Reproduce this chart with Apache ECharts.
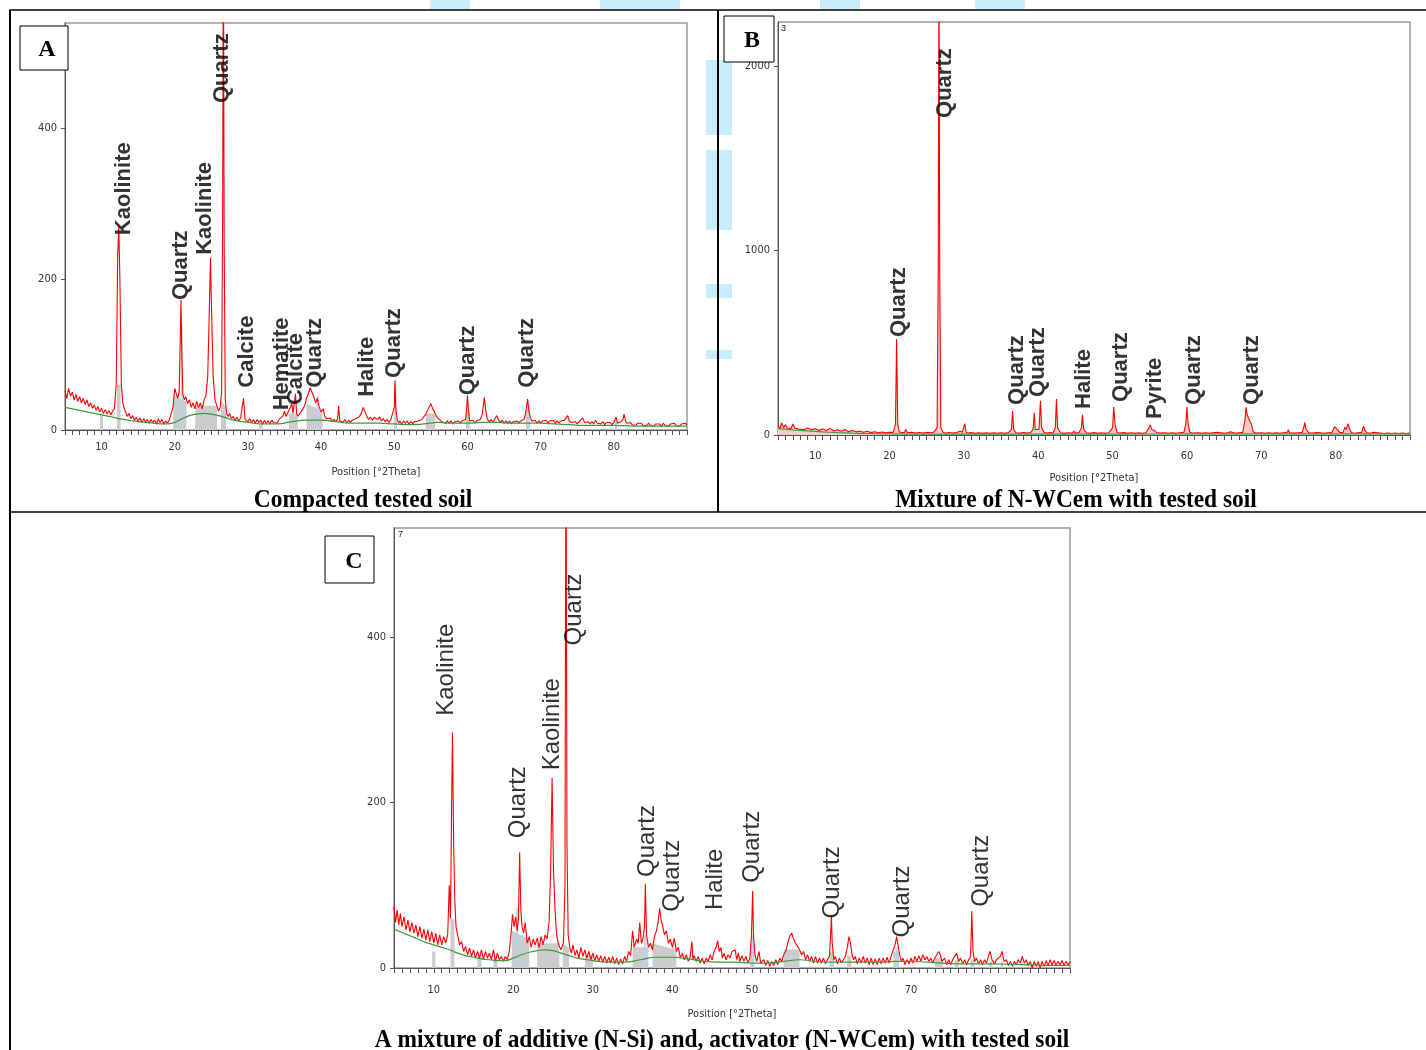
<!DOCTYPE html>
<html><head><meta charset="utf-8">
<script src="https://cdn.jsdelivr.net/npm/echarts@6/dist/echarts.min.js"></script>
<style>html,body{margin:0;padding:0;background:#fff}#c{width:1426px;height:1050px}</style>
</head><body><div id="c"></div>
<script>
// ---------- DATA ----------
const panelIds = ['A', 'B', 'C'];
const captions = ['Compacted tested soil', 'Mixture of N-WCem with tested soil', 'A mixture of additive (N-Si) and, activator (N-WCem) with tested soil'];
const axisTitle = 'Position [°2Theta]';
const xTickLabels = [10, 20, 30, 40, 50, 60, 70, 80];
const yTicksA = [0, 200, 400];
const yTicksB = [0, 1000, 2000];
const yTicksC = [0, 200, 400];
const cornerTags = ['', '3', '7'];

// Panel A (compacted tested soil)
const redA = [[5,52],[5.25,42],[5.5,55],[5.75,45],[6,50],[6.25,40],[6.5,47],[6.75,38],[7,44],[7.25,36],[7.5,42],[7.75,34],[8,40],[8.25,31],[8.5,36],[8.75,29],[9,33],[9.25,26],[9.5,31],[9.75,24],[10,29],[10.25,22],[10.5,27],[10.75,21],[11,26],[11.25,20],[11.5,25],[11.75,28],[12,60],[12.2,230],[12.35,270],[12.5,200],[12.7,60],[12.9,35],[13.2,26],[13.5,18],[13.75,22],[14,15],[14.25,19],[14.5,13],[14.75,17],[15,12],[15.25,16],[15.5,10],[15.75,15],[16,11],[16.25,14],[16.5,9],[16.75,14],[17,10],[17.25,13],[17.5,8],[17.75,15],[18,10],[18.25,14],[18.5,8],[18.75,12],[19,9],[19.25,13],[19.5,15],[19.75,30],[20,55],[20.2,48],[20.4,42],[20.6,50],[20.75,120],[20.85,172],[20.95,110],[21.1,48],[21.3,40],[21.5,44],[21.75,35],[22,40],[22.25,30],[22.5,36],[22.75,28],[23,38],[23.25,30],[23.5,36],[23.75,28],[24,40],[24.25,45],[24.5,70],[24.7,150],[24.88,228],[25.05,150],[25.25,70],[25.5,40],[25.75,32],[26,25],[26.2,30],[26.4,50],[26.55,300],[26.64,700],[26.75,250],[26.9,40],[27.1,22],[27.3,18],[27.5,22],[27.75,15],[28,18],[28.25,13],[28.5,17],[28.75,12],[29,16],[29.2,14],[29.4,42],[29.6,14],[29.75,16],[30,11],[30.25,15],[30.5,10],[30.75,14],[31,9],[31.25,14],[31.5,10],[31.75,13],[32,8],[32.25,13],[32.5,9],[32.75,12],[33,8],[33.25,13],[33.5,10],[33.75,12],[34,9],[34.25,14],[34.5,12],[34.75,18],[35,25],[35.2,18],[35.4,22],[35.6,20],[35.8,30],[36,35],[36.15,22],[36.3,20],[36.5,48],[36.65,22],[36.8,18],[37,20],[37.25,24],[37.5,28],[37.75,32],[38,42],[38.25,48],[38.5,56],[38.75,50],[39,44],[39.25,36],[39.5,42],[39.75,30],[40,24],[40.3,28],[40.5,18],[40.75,15],[41,13],[41.25,16],[41.5,11],[41.75,14],[42,11],[42.25,14],[42.4,32],[42.55,12],[42.75,14],[43,10],[43.25,14],[43.5,9],[43.75,13],[44,10],[44.25,13],[44.5,11],[44.75,15],[45,14],[45.25,18],[45.5,22],[45.75,30],[46,24],[46.25,18],[46.5,14],[46.75,17],[47,13],[47.25,17],[47.5,19],[47.75,14],[48,17],[48.25,12],[48.5,15],[48.75,11],[49,14],[49.25,10],[49.5,13],[49.75,12],[50,30],[50.1,66],[50.2,30],[50.4,13],[50.6,9],[50.75,12],[51,8],[51.25,12],[51.5,9],[51.75,12],[52,8],[52.25,11],[52.5,8],[52.75,11],[53,9],[53.25,12],[53.5,10],[53.75,14],[54,16],[54.25,20],[54.5,25],[54.75,30],[55,35],[55.25,28],[55.5,24],[55.75,18],[56,15],[56.25,13],[56.5,11],[56.75,13],[57,9],[57.25,12],[57.5,9],[57.75,12],[58,8],[58.25,11],[58.5,9],[58.75,12],[59,9],[59.25,12],[59.5,10],[59.75,14],[59.9,30],[60,46],[60.1,30],[60.3,12],[60.5,10],[60.75,13],[61,9],[61.25,12],[61.5,10],[61.75,14],[62,20],[62.2,35],[62.3,43],[62.45,30],[62.7,14],[63,11],[63.25,14],[63.5,10],[63.75,15],[64,19],[64.25,13],[64.5,10],[64.75,13],[65,9],[65.25,12],[65.5,9],[65.75,12],[66,8],[66.25,11],[66.5,9],[66.75,12],[67,9],[67.25,12],[67.5,10],[67.75,14],[68,25],[68.2,41],[68.4,25],[68.6,16],[68.8,12],[69,10],[69.25,13],[69.5,9],[69.75,12],[70,9],[70.25,12],[70.5,10],[70.75,13],[71,9],[71.25,12],[71.5,10],[71.75,13],[72,9],[72.25,12],[72.5,9],[72.75,12],[73,10],[73.25,13],[73.5,15],[73.7,19],[73.9,12],[74.25,10],[74.5,8],[74.75,11],[75,8],[75.25,11],[75.5,9],[75.75,16],[76,10],[76.25,8],[76.5,11],[76.75,8],[77,11],[77.25,8],[77.5,13],[77.75,9],[78,11],[78.25,8],[78.5,11],[78.75,7],[79,10],[79.25,8],[79.5,10],[79.75,7],[80,10],[80.3,17],[80.5,9],[80.75,8],[81,11],[81.25,14],[81.4,21],[81.6,12],[81.8,9],[82,7],[82.25,10],[82.5,7],[82.75,9],[83,6],[83.25,9],[83.5,7],[83.75,9],[84,6],[84.25,8],[84.5,6],[84.75,9],[85,6],[85.25,8],[85.5,5],[85.75,8],[86,6],[86.25,8],[86.5,5],[86.75,9],[87,6],[87.25,8],[87.5,5],[87.75,8],[88,6],[88.25,9],[88.5,6],[88.75,8],[89,5],[89.25,8],[89.5,6],[89.75,9],[90,7]];
const greenA = [[5,30],[7,26],[9,22],[11,18],[13,14],[15,11],[17,9],[19,8],[20,10],[21,15],[22,19],[23,21],[24,22],[25,21],[26,19],[27,16],[28,13],[30,10],[32,8],[34,8],[36,11],[38,13],[40,13],[42,11],[44,9],[46,9],[48,9],[50,8],[52,7],[54,8],[56,10],[58,9],[60,9],[62,10],[64,10],[66,9],[68,9],[70,9],[72,8],[74,7],[76,6],[78,6],[80,6],[84,5],[90,5]];
const grayA = [[5,0],[9.8,0],[9.8,20],[10.2,20],[10.2,0],[12.1,0],[12.1,60],[12.6,60],[12.6,0],[19.8,0],[19.8,45],[21.6,38],[21.6,0],[22.8,0],[22.8,32],[25.8,32],[25.8,0],[26.3,0],[26.3,40],[27,30],[27,0],[31.5,0],[31.5,10],[32,10],[32,0],[35.6,0],[35.6,22],[36.8,22],[36.8,0],[38,0],[38,35],[40.2,25],[40.2,0],[50,0],[50,40],[50.3,40],[50.3,0],[54.3,0],[54.3,22],[55.6,22],[55.6,0],[59.8,0],[59.8,25],[60.3,25],[60.3,0],[68,0],[68,25],[68.5,25],[68.5,0],[90,0]];
const sticksA = [[20.95,0],[20.95,140],[20.95,'-'],[39.5,0],[39.5,45],[39.5,'-'],[50.15,0],[50.15,62],[50.15,'-'],[68.35,0],[68.35,40],[68.35,'-'],[80.3,0],[80.3,16]];
const labelsA = [[13.0,258,'Kaolinite'],[20.9,172,'Quartz'],[24.1,232,'Kaolinite'],[26.5,433,'Quartz'],[29.9,56,'Calcite'],[34.6,26,'Hematite'],[36.5,33,'Calcite'],[39.2,56,'Quartz'],[46.2,44,'Halite'],[49.9,69,'Quartz'],[60.1,46,'Quartz'],[68.1,56,'Quartz']];

// Panel B (N-WCem + soil)
const redB = [[5,50],[5.25,35],[5.5,65],[5.75,40],[6,55],[6.25,38],[6.5,48],[6.75,35],[7,60],[7.25,38],[7.5,45],[7.75,32],[8,42],[8.5,30],[9,38],[9.5,28],[10,34],[10.5,25],[11,32],[11.5,24],[12,36],[12.5,22],[13,28],[13.5,20],[14,30],[14.5,18],[15,25],[15.5,17],[16,22],[16.5,15],[17,20],[17.5,13],[18,18],[18.5,12],[19,16],[19.5,12],[20,15],[20.5,14],[20.8,60],[20.95,520],[21.1,60],[21.3,18],[21.6,12],[22,14],[22.2,30],[22.4,12],[23,15],[23.5,10],[24,14],[24.5,10],[25,14],[25.5,12],[26,16],[26.4,40],[26.55,900],[26.65,2600],[26.75,900],[26.9,40],[27.2,15],[27.5,10],[28,14],[28.5,10],[29,13],[29.5,20],[29.8,15],[30.1,62],[30.3,15],[30.6,10],[31,13],[31.5,9],[32,12],[32.5,9],[33,12],[33.5,9],[34,12],[34.5,9],[35,12],[35.5,9],[36,13],[36.4,30],[36.55,130],[36.7,30],[37,12],[37.5,10],[38,14],[38.5,10],[39,14],[39.3,30],[39.47,122],[39.6,30],[40.1,30],[40.3,185],[40.45,40],[40.8,14],[41.2,10],[41.6,13],[42,10],[42.3,40],[42.45,195],[42.6,40],[43,12],[43.5,9],[44,12],[44.6,10],[44.8,22],[45,10],[45.5,14],[45.8,40],[45.95,110],[46.1,30],[46.5,12],[47,9],[47.5,13],[48,9],[48.5,12],[49,9],[49.5,12],[50,40],[50.15,152],[50.35,50],[50.6,15],[51,10],[51.5,13],[52,9],[52.5,12],[53,9],[53.5,12],[54,9],[54.5,12],[54.9,40],[55.05,55],[55.3,28],[55.6,25],[55.9,14],[56.3,10],[57,12],[57.5,9],[58,12],[58.5,9],[59,12],[59.6,15],[59.85,60],[60,152],[60.15,60],[60.4,15],[60.8,10],[61.5,12],[62,9],[62.5,12],[63,9],[63.5,12],[64.1,15],[64.2,25],[64.35,12],[65,9],[65.5,12],[65.85,18],[66,12],[66.5,9],[67,12],[67.5,14],[67.8,80],[67.95,150],[68.1,110],[68.25,95],[68.45,100],[68.65,60],[68.9,18],[69.3,10],[70,12],[70.5,9],[71,12],[71.5,9],[72,12],[72.5,9],[73,12],[73.5,15],[73.65,28],[73.8,12],[74.5,10],[75,12],[75.5,14],[75.7,40],[75.85,67],[76,30],[76.2,35],[76.4,12],[77,10],[77.5,13],[77.7,22],[77.9,12],[78.5,9],[79,12],[79.5,13],[79.85,45],[80,40],[80.2,30],[80.35,32],[80.6,12],[81,14],[81.25,42],[81.45,30],[81.65,62],[81.85,35],[82.1,14],[82.5,9],[83,12],[83.5,14],[83.75,48],[83.95,25],[84.2,12],[84.7,10],[85.1,15],[85.3,9],[86,11],[86.5,8],[87,11],[87.5,8],[88,11],[88.5,8],[89,11],[89.5,8],[90,10]];
const greenB = [[5,35],[7,28],[9,22],[11,17],[13,13],[15,10],[17,8],[20,6],[25,5],[30,5],[40,5],[50,5],[60,6],[70,6],[80,6],[90,6]];
const grayB = [[5,0],[20.85,0],[20.9,300],[21.0,300],[21.05,0],[26.5,0],[26.58,1500],[26.72,1500],[26.8,0],[40.25,0],[40.3,80],[40.4,80],[40.45,0],[50.05,0],[50.1,60],[50.25,60],[50.3,0],[59.9,0],[59.95,60],[60.1,60],[60.15,0],[67.85,0],[67.9,70],[68.6,70],[68.65,0],[81.5,0],[81.55,30],[81.8,30],[81.85,0],[90,0]];
const labelsB = [[21.3,531,'Quartz'],[27.5,1718,'Quartz'],[37.1,163,'Quartz'],[40.0,206,'Quartz'],[46.1,141,'Halite'],[51.1,179,'Quartz'],[55.7,87,'Pyrite'],[60.9,163,'Quartz'],[68.8,163,'Quartz']];

// Panel C (N-Si + N-WCem + soil)
const redC = [[5,75],[5.2,55],[5.4,70],[5.6,52],[5.8,66],[6,50],[6.25,62],[6.5,46],[6.75,58],[7,44],[7.25,55],[7.5,42],[7.75,52],[8,38],[8.25,50],[8.5,36],[8.75,47],[9,34],[9.25,46],[9.5,32],[9.75,44],[10,30],[10.25,42],[10.5,28],[10.75,40],[11,28],[11.25,38],[11.5,30],[11.75,40],[11.95,100],[12.1,60],[12.25,200],[12.35,285],[12.5,150],[12.65,80],[12.8,50],[13,40],[13.25,28],[13.5,32],[13.75,20],[14,26],[14.25,16],[14.5,24],[14.75,14],[15,22],[15.25,12],[15.5,20],[15.75,12],[16,22],[16.25,10],[16.5,20],[16.75,12],[17,18],[17.25,10],[17.5,22],[17.75,8],[18,18],[18.25,10],[18.5,14],[18.75,8],[19,14],[19.25,10],[19.5,20],[19.75,45],[19.9,65],[20.1,50],[20.3,62],[20.5,45],[20.65,60],[20.8,140],[20.95,70],[21.1,50],[21.3,42],[21.5,55],[21.75,30],[22,38],[22.25,25],[22.5,35],[22.75,28],[23,36],[23.25,25],[23.5,38],[23.75,28],[24,40],[24.25,35],[24.5,55],[24.7,120],[24.88,230],[25.05,120],[25.25,70],[25.45,40],[25.7,28],[26,22],[26.3,30],[26.5,100],[26.62,700],[26.75,150],[26.9,40],[27.1,25],[27.3,18],[27.5,28],[27.75,15],[28,22],[28.25,12],[28.5,25],[28.75,14],[29,22],[29.25,12],[29.5,20],[29.75,10],[30,18],[30.25,9],[30.5,16],[30.75,8],[31,15],[31.25,7],[31.5,14],[31.75,6],[32,13],[32.25,6],[32.5,14],[32.75,5],[33,12],[33.25,4],[33.5,11],[33.75,5],[34,14],[34.25,8],[34.5,20],[34.75,15],[35,45],[35.2,25],[35.5,35],[35.7,30],[35.9,55],[36.1,30],[36.3,35],[36.5,50],[36.6,102],[36.75,40],[37,25],[37.25,30],[37.5,22],[37.75,38],[38,45],[38.2,55],[38.4,72],[38.6,58],[38.8,50],[39,40],[39.25,45],[39.5,30],[39.75,35],[40,25],[40.25,36],[40.5,20],[40.75,25],[41,12],[41.25,18],[41.5,10],[41.75,16],[42,8],[42.25,14],[42.45,32],[42.6,10],[42.75,15],[43,8],[43.25,14],[43.5,6],[43.75,12],[44,5],[44.25,12],[44.5,8],[44.75,16],[45,10],[45.25,20],[45.5,25],[45.7,33],[45.9,20],[46.1,25],[46.3,12],[46.5,18],[46.75,10],[47,16],[47.25,12],[47.5,20],[47.9,22],[48.1,10],[48.3,18],[48.5,8],[48.75,15],[49,8],[49.25,14],[49.5,6],[49.75,12],[49.95,40],[50.1,93],[50.2,40],[50.4,15],[50.6,8],[50.9,20],[51.1,6],[51.5,10],[51.75,3],[52,9],[52.25,2],[52.5,8],[52.75,3],[53,10],[53.25,4],[53.5,12],[53.75,8],[54,16],[54.25,20],[54.5,30],[54.75,38],[55,42],[55.25,35],[55.5,30],[55.75,28],[56,22],[56.25,16],[56.5,20],[56.75,10],[57,16],[57.25,8],[57.5,14],[57.75,6],[58,14],[58.25,6],[58.5,12],[58.75,6],[59,12],[59.25,5],[59.5,10],[59.75,14],[59.9,40],[60,63],[60.1,30],[60.3,10],[60.5,14],[60.75,5],[61,12],[61.25,6],[61.5,10],[61.75,14],[62,25],[62.2,38],[62.4,30],[62.6,16],[62.8,10],[63,14],[63.25,5],[63.5,12],[63.75,6],[64,14],[64.25,6],[64.5,12],[64.75,4],[65,12],[65.25,4],[65.5,11],[65.75,4],[66,12],[66.25,5],[66.5,12],[66.75,6],[67,13],[67.25,6],[67.5,14],[67.75,12],[68,28],[68.2,38],[68.4,26],[68.6,15],[68.8,8],[69,12],[69.25,4],[69.5,10],[69.75,5],[70,12],[70.25,6],[70.5,14],[70.75,8],[71,15],[71.25,8],[71.5,16],[71.75,10],[72,14],[72.25,8],[72.5,12],[72.75,6],[73,12],[73.25,10],[73.5,20],[73.7,16],[73.9,8],[74.25,12],[74.5,4],[74.75,10],[75,4],[75.25,10],[75.5,8],[75.75,18],[76,8],[76.25,12],[76.5,5],[76.75,10],[77,4],[77.25,10],[77.5,14],[77.65,69],[77.8,20],[78,8],[78.25,12],[78.5,5],[78.75,10],[79,4],[79.25,10],[79.5,6],[79.75,14],[79.95,20],[80.2,10],[80.5,5],[80.75,10],[81,8],[81.25,14],[81.45,20],[81.7,8],[82,10],[82.25,3],[82.5,8],[82.75,2],[83,8],[83.25,4],[83.5,10],[83.75,6],[84,14],[84.25,6],[84.5,10],[84.75,3],[85,8],[85.25,0],[85.5,8],[85.75,2],[86,8],[86.25,0],[86.5,8],[86.75,2],[87,9],[87.25,3],[87.5,10],[87.75,4],[88,9],[88.25,3],[88.5,8],[88.75,4],[89,9],[89.25,3],[89.5,8],[89.75,4],[90,8]];
const greenC = [[5,47],[6,43],[7,39],[8,35],[9,31],[10,28],[11,25],[12,22],[13,18],[14,15],[15,13],[16,11],[17,10],[18,9],[19,9],[20,12],[21,16],[22,19],[23,21],[24,22],[25,21],[26,18],[27,15],[28,12],[30,9],[32,7],[34,7],[36,10],[38,13],[40,13],[42,11],[44,8],[46,7],[48,7],[50,6],[52,6],[54,8],[56,10],[58,8],[60,7],[62,7],[64,7],[66,7],[68,8],[70,8],[72,7],[74,6],[76,5],[78,5],[80,5],[84,4],[88,3],[90,3]];
const grayC = [[5,0],[9.8,0],[9.8,20],[10.2,20],[10.2,0],[12.1,0],[12.1,60],[12.6,60],[12.6,0],[15.5,0],[15.5,15],[16,15],[16,0],[17.5,0],[17.5,10],[18,10],[18,0],[19.8,0],[19.8,45],[22,35],[22,0],[23,0],[23,30],[25.8,30],[25.8,0],[26.2,0],[26.2,30],[27,25],[27,0],[29,0],[29,15],[30,15],[30,0],[35,0],[35,25],[37,25],[37,0],[37.5,0],[37.5,30],[40.5,22],[40.5,0],[49.8,0],[49.8,30],[50.3,30],[50.3,0],[54,0],[54,22],[56,22],[56,0],[59.8,0],[59.8,20],[60.3,20],[60.3,0],[62,0],[62,15],[62.5,15],[62.5,0],[67.8,0],[67.8,20],[68.5,20],[68.5,0],[73,0],[73,12],[74,12],[74,0],[75.5,0],[75.5,10],[76,10],[76,0],[77.5,0],[77.5,10],[78,10],[78,0],[79.8,0],[79.8,8],[80.2,8],[80.2,0],[81.3,0],[81.3,8],[81.6,8],[81.6,0],[90,0]];
const sticksC = [[20.5,0],[20.5,72],[20.5,'-'],[36.6,0],[36.6,40],[36.6,'-'],[50.1,0],[50.1,40],[50.1,'-'],[54.8,0],[54.8,22],[54.8,'-'],[68.2,0],[68.2,25]];
const labelsC = [[11.6,305,'Kaolinite'],[20.6,157,'Quartz'],[24.9,239,'Kaolinite'],[27.7,390,'Quartz'],[36.8,110,'Quartz'],[40.0,68,'Quartz'],[45.4,70,'Halite'],[50.1,103,'Quartz'],[60.1,60,'Quartz'],[68.9,37,'Quartz'],[78.8,74,'Quartz']];

// ---------- CHART ----------
const grids = [
  {left: 65, top: 23, width: 622, height: 407},
  {left: 778, top: 22, width: 632, height: 413},
  {left: 394, top: 528, width: 676, height: 440}
];
const yMax = [539, 2238, 532];
const yTicks = [yTicksA, yTicksB, yTicksC];
const xLabelMargin = [12, 16, 17];
const nameGaps = [37, 38, 41];
const narrow = "'Liberation Sans Narrow','Arial Narrow','DejaVu Sans Condensed','Liberation Sans',sans-serif";

const xAxes = grids.map((g, i) => ({
  gridIndex: i, type: 'value', min: 5, max: 90, interval: 1,
  axisLine: {show: true, onZero: false, lineStyle: {color: '#555', width: 1}},
  axisTick: {show: true, length: 5, lineStyle: {color: '#555'}},
  splitLine: {show: false},
  axisLabel: {margin: xLabelMargin[i], fontSize: 11, color: '#333', fontFamily: narrow,
    formatter: v => (xTickLabels.indexOf(v) >= 0 ? String(v) : '')},
  name: axisTitle, nameLocation: 'middle', nameGap: nameGaps[i],
  nameTextStyle: {fontSize: 11, color: '#333', fontFamily: narrow}
}));
const yAxes = grids.map((g, i) => ({
  gridIndex: i, type: 'value', min: 0, max: yMax[i], interval: yTicks[i][1] - yTicks[i][0],
  axisLine: {show: true, lineStyle: {color: '#555', width: 1}},
  axisTick: {show: true, length: 4, lineStyle: {color: '#555'}},
  splitLine: {show: false},
  axisLabel: {margin: 8, fontSize: 11, color: '#333', fontFamily: narrow, showMaxLabel: false,
    formatter: v => (yTicks[i].indexOf(v) >= 0 ? String(v) : '')}
}));

function panelSeries(i, red, green, gray, sticks, labels, bold, fs, redFill) {
  const out = [];
  out.push({type: 'line', xAxisIndex: i, yAxisIndex: i, data: gray, symbol: 'none',
    lineStyle: {width: 0}, areaStyle: {color: '#cccccc', opacity: 1}, silent: true, z: 1});
  if (sticks) out.push({type: 'line', xAxisIndex: i, yAxisIndex: i, data: sticks, symbol: 'none',
    connectNulls: false, lineStyle: {width: 2, color: '#b9d3ef'}, silent: true, z: 2});
  const r = {type: 'line', xAxisIndex: i, yAxisIndex: i, data: red, symbol: 'none',
    lineStyle: {width: 1.1, color: '#ff0000'}, silent: true, z: 3};
  if (redFill) r.areaStyle = {color: redFill, opacity: 1, origin: 'start'};
  out.push(r);
  out.push({type: 'line', xAxisIndex: i, yAxisIndex: i, data: green, symbol: 'none', smooth: true,
    lineStyle: {width: 1.2, color: '#3c9a3c'}, silent: true, z: 4});
  out.push({type: 'scatter', xAxisIndex: i, yAxisIndex: i, data: labels, symbolSize: 0, silent: true, z: 5,
    label: {show: true, position: [0, 0], rotate: 90, align: 'left', verticalAlign: 'middle',
      formatter: p => p.data[2], fontFamily: "'Liberation Sans',Arial,sans-serif",
      fontWeight: bold ? 'bold' : 'normal', fontSize: fs, color: '#000'}});
  return out;
}

const series = [].concat(
  panelSeries(0, redA, greenA, grayA, sticksA, labelsA, true, 22, null),
  panelSeries(1, redB, greenB, grayB, null, labelsB, true, 22, '#f1cfcf'),
  panelSeries(2, redC, greenC, grayC, sticksC, labelsC, false, 24, null)
);

const W = '#c9eefb';
const capFont = "bold 26px 'Liberation Serif',serif";
const graphic = [
  // faint watermark pieces
  {type: 'rect', z: -10, shape: {x: 706, y: 60, width: 26, height: 75}, style: {fill: W}},
  {type: 'rect', z: -10, shape: {x: 706, y: 150, width: 26, height: 80}, style: {fill: W}},
  {type: 'rect', z: -10, shape: {x: 706, y: 284, width: 26, height: 14}, style: {fill: W}},
  {type: 'rect', z: -10, shape: {x: 706, y: 350, width: 26, height: 9}, style: {fill: W}},
  {type: 'rect', z: -10, shape: {x: 430, y: 0, width: 40, height: 9}, style: {fill: W}},
  {type: 'rect', z: -10, shape: {x: 600, y: 0, width: 80, height: 9}, style: {fill: W}},
  {type: 'rect', z: -10, shape: {x: 820, y: 0, width: 40, height: 9}, style: {fill: W}},
  {type: 'rect', z: -10, shape: {x: 975, y: 0, width: 50, height: 9}, style: {fill: W}},
  // table borders
  {type: 'line', shape: {x1: 9, y1: 10, x2: 1426, y2: 10}, style: {stroke: '#000', lineWidth: 1.5}},
  {type: 'line', shape: {x1: 10, y1: 10, x2: 10, y2: 1050}, style: {stroke: '#000', lineWidth: 2}},
  {type: 'line', shape: {x1: 718, y1: 10, x2: 718, y2: 512}, style: {stroke: '#000', lineWidth: 2}},
  {type: 'line', shape: {x1: 10, y1: 512, x2: 1426, y2: 512}, style: {stroke: '#000', lineWidth: 1.5}},
  // panel letters
  {type: 'rect', z: 20, shape: {x: 20, y: 26, width: 48, height: 44}, style: {fill: '#fff', stroke: '#000', lineWidth: 1}},
  {type: 'text', z: 21, x: 47, y: 50, style: {text: panelIds[0], font: "bold 24px 'Liberation Serif',serif", fill: '#000', align: 'center', verticalAlign: 'middle'}},
  {type: 'rect', z: 20, shape: {x: 724, y: 16, width: 50, height: 46}, style: {fill: '#fff', stroke: '#000', lineWidth: 1}},
  {type: 'text', z: 21, x: 752, y: 41, style: {text: panelIds[1], font: "bold 24px 'Liberation Serif',serif", fill: '#000', align: 'center', verticalAlign: 'middle'}},
  {type: 'rect', z: 20, shape: {x: 325, y: 536, width: 49, height: 47}, style: {fill: '#fff', stroke: '#000', lineWidth: 1}},
  {type: 'text', z: 21, x: 354, y: 562, style: {text: panelIds[2], font: "bold 24px 'Liberation Serif',serif", fill: '#000', align: 'center', verticalAlign: 'middle'}},
  // corner tags
  {type: 'text', x: 781, y: 24, style: {text: cornerTags[1], font: "9px 'Liberation Sans',sans-serif", fill: '#222'}},
  {type: 'text', x: 398, y: 530, style: {text: cornerTags[2], font: "9px 'Liberation Sans',sans-serif", fill: '#222'}},
  // captions
  {type: 'text', x: 363, y: 500, scaleX: 0.9, style: {text: captions[0], font: capFont, fill: '#000', align: 'center', verticalAlign: 'middle'}},
  {type: 'text', x: 1076, y: 500, scaleX: 0.9, style: {text: captions[1], font: capFont, fill: '#000', align: 'center', verticalAlign: 'middle'}},
  {type: 'text', x: 722, y: 1040, scaleX: 0.9, style: {text: captions[2], font: capFont, fill: '#000', align: 'center', verticalAlign: 'middle'}}
];

const chart = echarts.init(document.getElementById('c'), null, {renderer: 'canvas', width: 1426, height: 1050});
chart.setOption({
  backgroundColor: '#fff',
  animation: false,
  grid: grids.map(g => Object.assign({show: true, borderColor: '#9a9a9a', borderWidth: 1.5, backgroundColor: 'transparent'}, g)),
  xAxis: xAxes,
  yAxis: yAxes,
  series: series,
  graphic: graphic
});
</script></body></html>
